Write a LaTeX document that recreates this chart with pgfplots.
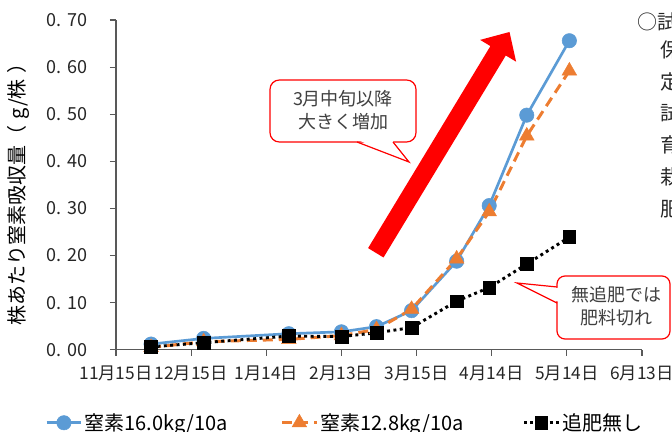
\documentclass[border=0pt]{standalone}
\usepackage{fontspec}
\setmainfont{Noto Sans CJK JP}
\usepackage{pgfplots}
\pgfplotsset{compat=1.18}

\definecolor{nblue}{HTML}{5B9BD5}
\definecolor{norange}{HTML}{ED7D31}
\definecolor{txtgray}{HTML}{404040}

\newcommand{\yt}[1]{0.\hspace{0.35em}#1}

\begin{document}
\begin{tikzpicture}
\useasboundingbox (0,0) rectangle (504pt,324pt);
\clip (0,0) rectangle (504pt,324pt);
\begin{axis}[
  at={(87pt,61.7pt)}, anchor=south west,
  scale only axis, width=394.5pt, height=247.3pt,
  xmin=0, xmax=210, ymin=0, ymax=0.7,
  clip=false,
  axis lines=left,
  axis line style={-, black!65, line width=0.9pt},
  tick align=outside, major tick length=4.5pt,
  tick style={black!65, line width=0.9pt},
  xtick={0,30,60,90,120,150,180,210},
  xticklabels={11月15日,12月15日,1月14日,2月13日,3月15日,4月14日,5月14日,6月13日},
  ytick={0,0.1,0.2,0.3,0.4,0.5,0.6,0.7},
  yticklabels={\yt{00},\yt{10},\yt{20},\yt{30},\yt{40},\yt{50},\yt{60},\yt{70}},
  xticklabel style={font=\fontsize{13}{14}\selectfont, text=black!85, anchor=center, yshift=-13.5pt},
  yticklabel style={font=\fontsize{13.5}{14}\selectfont, text=black!85, anchor=east, inner sep=0pt, xshift=-16.5pt},
  ylabel={株あたり窒素吸収量（\hspace{0.3em}g/株\hspace{0.3em}）},
  every axis y label/.style={at={(axis description cs:-0.186,0.487)}, rotate=90, anchor=center, font=\fontsize{15}{17}\selectfont},
  legend columns=3,
  legend cell align=left,
  legend style={at={(axis description cs:-0.135,-0.2215)}, anchor=west, draw=none, fill=none, inner sep=0pt,
    font=\fontsize{15}{17}\selectfont, nodes={inner sep=1.5pt},
    /tikz/column 2/.style={column sep=38pt},
    /tikz/column 4/.style={column sep=42.75pt}},
  legend image code/.code={\draw[mark repeat=2,mark phase=2,#1] plot coordinates {(0pt,0pt) (13pt,0pt) (26pt,0pt)};},
]
\addplot[nblue, line width=2pt, mark=*, mark size=5.4pt,
  mark options={solid, fill=nblue, draw=nblue, line width=0.4pt}]
  coordinates {(14,0.012) (35,0.024) (69,0.034) (90,0.038) (104,0.049) (118,0.083) (136,0.188) (149,0.306) (164,0.498) (181,0.656)};
\addlegendentry{窒素16.0kg/10a}
\addplot[norange, line width=2.25pt, dash pattern=on 7.5pt off 4.5pt, mark=triangle*, mark size=6.3pt,
  mark options={solid, fill=norange, draw=norange, line width=0.4pt}]
  coordinates {(14,0.005) (35,0.017) (69,0.022) (90,0.030) (104,0.043) (118,0.086) (136,0.193) (149,0.293) (164,0.454) (181,0.592)};
\addlegendentry{窒素12.8kg/10a}
\addplot[black, line width=2.2pt, dash pattern=on 2.2pt off 2.6pt, mark=square*, mark size=4.8pt,
  mark options={solid, fill=black, draw=black, line width=0.4pt}]
  coordinates {(14,0.006) (35,0.015) (69,0.029) (90,0.028) (104,0.036) (118,0.047) (136,0.103) (149,0.132) (164,0.182) (181,0.239)};
\addlegendentry{追肥無し}
\end{axis}

% annotations, in pixel units from the top-left corner
\begin{scope}[x=0.75pt, y=-0.75pt, shift={(0pt,324pt)}]
  % big red arrow
  \fill[red] (368.1,248.1) -- (490.4,46.1) -- (480.1,39.9) -- (509.5,32) -- (516.1,61.7) -- (505.8,55.5) -- (383.5,257.5) -- cycle;
  % callout: steep rise after mid-March
  \filldraw[fill=white, draw=red, line width=0.9pt, rounded corners=7pt] (270,80) rectangle (416,142);
  \fill[white] (358,140) -- (392,140) -- (409,162) -- cycle;
  \draw[red, line width=0.9pt] (357,142) -- (409,162) -- (393,142);
  \node[text=txtgray, font=\fontsize{13.5}{17.25}\selectfont, align=center] at (343,110.5) {3月中旬以降\\大きく増加};
  % callout: no top dressing
  \filldraw[fill=white, draw=red, line width=0.9pt, rounded corners=6pt] (557,276) rectangle (670,339);
  \fill[white] (559,288) -- (559,302) -- (517,283) -- cycle;
  \draw[red, line width=0.9pt] (557,287) -- (517,283) -- (557,303);
  \node[text=txtgray, font=\fontsize{13.5}{17.25}\selectfont, align=center] at (616,306.5) {無追肥では\\肥料切れ};
  % side notes
  \begin{scope}[font=\fontsize{15}{17}\selectfont, text=black!85]
    \node[anchor=west, inner sep=0pt] at (637,22) {○試験};
    \node[anchor=west, inner sep=0pt] at (660,50) {保};
    \node[anchor=west, inner sep=0pt] at (660,82) {定};
    \node[anchor=west, inner sep=0pt] at (660,113) {試};
    \node[anchor=west, inner sep=0pt] at (660,145) {育};
    \node[anchor=west, inner sep=0pt] at (660,177) {栽};
    \node[anchor=west, inner sep=0pt] at (660,209) {肥};
  \end{scope}
\end{scope}
\end{tikzpicture}
\end{document}
